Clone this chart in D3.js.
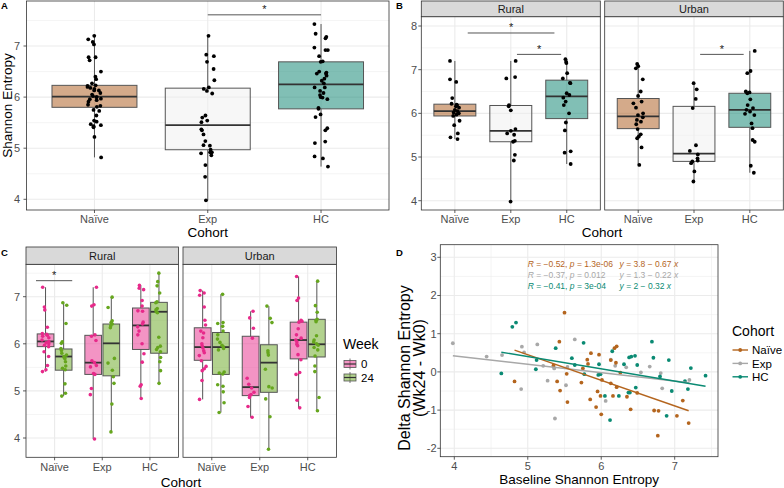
<!DOCTYPE html>
<html><head><meta charset="utf-8">
<script src="https://cdn.jsdelivr.net/npm/d3@7"></script>
<style>body{margin:0;background:#fff}svg{display:block}</style>
</head><body><svg id="c" width="784" height="488"></svg>
<script>
const cohorts = ["Naïve", "Exp", "HC"];
const sites = ["Rural", "Urban"];
const weeks = ["0", "24"];

// Week 0 (baseline) Shannon entropy by site, per cohort [Naïve, Exp, HC]
const ruralNaive0 = [7.20, 6.78, 6.72, 6.35, 6.22, 6.20, 6.18, 6.16, 6.13, 6.08, 6.05, 6.02, 6.00, 5.97, 5.94, 5.83, 5.73, 5.54, 5.45, 5.41];
const ruralExp0 = [7.20, 6.83, 6.80, 6.19, 6.16, 6.07, 5.64, 5.60, 5.54, 5.51, 5.37, 5.35, 5.05, 4.92, 3.98];
const ruralHC0 = [7.24, 7.18, 7.15, 6.92, 6.80, 6.70, 6.69, 6.46, 6.42, 6.36, 6.27, 6.19, 6.00, 5.79, 5.61, 5.13, 5.10, 4.84];
const urbanNaive0 = [7.13, 7.08, 7.03, 6.78, 6.50, 6.40, 6.27, 6.23, 6.13, 6.00, 5.96, 5.91, 5.85, 5.81, 5.75, 5.64, 5.52, 5.47, 5.43, 5.22, 4.82];
const urbanExp0 = [6.69, 6.55, 6.33, 6.12, 5.27, 5.14, 5.06, 4.97, 4.92, 4.90, 4.86, 4.67, 4.44];
const urbanHC0 = [7.43, 6.97, 6.92, 6.50, 6.48, 6.46, 6.32, 6.19, 6.12, 6.08, 6.04, 5.99, 5.96, 5.77, 5.66, 5.39, 5.35, 4.80, 4.64];
// Week 24
const ruralNaive24 = [6.87, 6.82, 6.43, 6.04, 6.01, 5.90, 5.86, 5.80, 5.76, 5.73, 5.71, 5.68, 5.62, 5.53, 5.48, 5.45, 5.15, 4.95, 4.89];
const ruralExp24 = [6.99, 6.77, 6.49, 6.45, 6.42, 6.38, 6.34, 5.69, 5.59, 5.44, 5.30, 5.16, 4.72, 4.13];
const ruralHC24 = [7.50, 7.32, 7.23, 7.08, 6.89, 6.87, 6.75, 6.72, 6.68, 6.66, 6.14, 5.95, 5.92, 5.88, 5.83, 5.71, 5.62, 5.43, 5.16];
const urbanNaive24 = [7.05, 6.45, 6.43, 6.37, 6.27, 6.19, 6.10, 6.03, 5.97, 5.94, 5.90, 5.87, 5.40, 5.38, 5.36, 5.13, 5.10, 4.98, 4.75, 4.54];
const urbanExp24 = [6.80, 6.54, 6.45, 5.85, 5.81, 5.76, 5.46, 5.09, 5.06, 4.83, 4.45, 3.76];
const urbanHC24 = [7.33, 6.81, 6.67, 6.52, 6.50, 6.47, 6.17, 6.08, 6.04, 6.00, 5.97, 5.92, 5.87, 5.74, 5.53, 5.41, 4.86, 4.58];

// Box quartiles [Q1, median, Q3] per cohort
const quartA = [[5.80, 6.01, 6.23], [4.97, 5.45, 6.175], [5.77, 6.25, 6.69]];
const quartRural0 = [[5.94, 6.05, 6.21], [5.35, 5.60, 6.18], [5.88, 6.39, 6.76]];
const quartUrban0 = [[5.65, 5.93, 6.34], [4.90, 5.08, 6.16], [5.68, 6.08, 6.46]];
const quartRural24 = [[5.44, 5.73, 5.89], [5.32, 6.01, 6.42], [5.80, 6.68, 6.88]];
const quartUrban24 = [[5.35, 5.93, 6.24], [4.97, 5.60, 5.98], [5.72, 5.99, 6.52]];

// Significance brackets [x1, x2, y] in category units
const sigA = [[2, 3, 7.61]];
const sigBRural = [[1.23, 2.78, 7.84], [2.11, 2.90, 7.35]];
const sigBUrban = [[2.11, 2.89, 7.35]];
const sigCRural = [[0.61, 1.37, 7.34]];

// Panel D: baseline vs delta
const dNaiveX = [4.82, 5.35, 5.40, 5.43, 5.44, 5.50, 5.53, 5.54, 5.73, 5.75, 5.81, 5.82, 5.85, 5.86, 5.93, 5.95, 5.97, 5.99, 6.00, 6.01, 6.13, 6.13, 6.16, 6.18, 6.20, 6.21, 6.21, 6.26, 6.35, 6.40, 6.49, 6.72, 6.78, 6.77, 7.03, 7.11, 7.19];
const dNaiveY = [-0.25, 0.17, -0.25, 0.79, -0.49, 1.55, -0.05, -0.79, -0.28, 0.09, 0.32, 0.21, -0.72, 0.49, -0.92, -0.51, 0.45, -0.63, -1.11, -0.21, -0.30, 0.31, -0.63, 0.62, 0.24, 0.67, -0.40, -0.02, -0.65, -0.98, -0.55, -1.01, -1.02, -1.67, -1.15, -0.75, -1.34];
const dExpX = [3.98, 4.44, 4.65, 4.91, 4.92, 4.95, 5.13, 5.21, 5.27, 5.35, 5.36, 5.37, 5.52, 5.54, 5.64, 6.06, 6.13, 6.19, 6.34, 6.54, 6.66, 6.81, 6.83, 7.20];
const dExpY = [0.75, 0.40, 0.44, -0.45, 0.66, 0.51, 0.72, 0.16, -0.23, 0.14, 0.09, -1.22, -0.35, 0.13, 0.85, -0.76, 0.32, 0.16, 0.12, -0.01, 0.14, -0.03, -0.43, -0.21];
const dHCX = [4.64, 4.79, 4.84, 5.11, 5.12, 5.38, 5.60, 5.64, 5.76, 5.77, 5.96, 5.97, 5.99, 6.05, 6.12, 6.15, 6.24, 6.31, 6.37, 6.39, 6.38, 6.41, 6.46, 6.47, 6.49, 6.69, 6.71, 6.80, 6.89, 6.92, 6.96, 7.14, 7.18, 7.22, 7.42];
const dHCY = [-0.04, 1.18, 1.29, 0.07, 0.31, 0.62, 0.36, 0.18, 0.76, -0.06, -0.08, 0.20, -0.06, -0.63, -1.26, 0.54, -0.63, 0.20, -0.54, -0.54, 0.38, 0.40, 0.42, -0.41, 0.18, 0.79, 0.37, -0.12, -1.15, 0.31, -0.50, -0.24, -0.45, 0.10, -0.10];
const fitIntercept = [3.8, 1.3, 2];
const fitSlope = [-0.67, -0.22, -0.32];
const corR = ["−0.52", "−0.37", "−0.41"];
const corP = ["1.3e-06", "0.012", "3e-04"];
const eqText = [" = 3.8 − 0.67 ", " = 1.3 − 0.22 ", " = 2 − 0.32 "];

const ticks4to7 = [4, 5, 6, 7];
const ticks4to8 = [4, 5, 6, 7, 8];
const ticksDX = [4, 5, 6, 7];
const ticksDY = [-2, -1, 0, 1, 2, 3];

// ---------- styles ----------
const FONT = '"Liberation Sans", Arial, Helvetica, sans-serif';
const cohortFill = ["#B0652A", "#F0F0F0", "#1A8A78"];
const cohortFillOp = [0.55, 0.5, 0.55];
const cohortCol = ["#B4651E", "#A8A8A8", "#0A8A73"];
const weekCol = ["#E7298A", "#66A61E"];
const GRID = "#EBEBEB";

const svg = d3.select("#c").style("font-family", FONT);
const rng = d3.randomLcg(0.37);
const jit = () => rng() * 2 - 1;

function frame(x0, x1, y0, y1, xs, ys, xMaj, xMin, yMaj, yMin) {
  svg.append("rect").attr("x", x0).attr("y", y0).attr("width", x1 - x0).attr("height", y1 - y0).attr("fill", "#fff");
  const gl = svg.append("g");
  yMin.forEach(v => gl.append("line").attr("x1", x0).attr("x2", x1).attr("y1", ys(v)).attr("y2", ys(v)).attr("stroke", GRID).attr("stroke-width", 0.55));
  xMin.forEach(v => gl.append("line").attr("y1", y0).attr("y2", y1).attr("x1", xs(v)).attr("x2", xs(v)).attr("stroke", GRID).attr("stroke-width", 0.55));
  yMaj.forEach(v => gl.append("line").attr("x1", x0).attr("x2", x1).attr("y1", ys(v)).attr("y2", ys(v)).attr("stroke", GRID).attr("stroke-width", 1.1));
  xMaj.forEach(v => gl.append("line").attr("y1", y0).attr("y2", y1).attr("x1", xs(v)).attr("x2", xs(v)).attr("stroke", GRID).attr("stroke-width", 1.1));
}
function border(x0, x1, y0, y1) {
  svg.append("rect").attr("x", x0).attr("y", y0).attr("width", x1 - x0).attr("height", y1 - y0)
    .attr("fill", "none").attr("stroke", "#333").attr("stroke-width", 0.8);
}
function strip(x0, x1, y0, y1, label) {
  svg.append("rect").attr("x", x0).attr("y", y0).attr("width", x1 - x0).attr("height", y1 - y0)
    .attr("fill", "#D9D9D9").attr("stroke", "#333").attr("stroke-width", 0.8);
  svg.append("text").attr("x", (x0 + x1) / 2).attr("y", (y0 + y1) / 2).attr("dy", "0.36em")
    .attr("text-anchor", "middle").attr("font-size", 11).attr("fill", "#1A1A1A").text(label);
}
function yAxis(x0, ys, ticks, labelX) {
  ticks.forEach(v => {
    svg.append("line").attr("x1", x0 - 3).attr("x2", x0).attr("y1", ys(v)).attr("y2", ys(v)).attr("stroke", "#333").attr("stroke-width", 0.8);
    svg.append("text").attr("x", labelX).attr("y", ys(v)).attr("dy", "0.36em").attr("text-anchor", "end")
      .attr("font-size", 11).attr("fill", "#4D4D4D").text(v);
  });
}
function xAxis(y1, xs, ticks, labels, baseY) {
  ticks.forEach((v, i) => {
    svg.append("line").attr("x1", xs(v)).attr("x2", xs(v)).attr("y1", y1).attr("y2", y1 + 3).attr("stroke", "#333").attr("stroke-width", 0.8);
    svg.append("text").attr("x", xs(v)).attr("y", baseY).attr("text-anchor", "middle")
      .attr("font-size", 11).attr("fill", "#4D4D4D").text(labels[i]);
  });
}
function box(xs, ys, pos, w, q, vals, fill, fop, ptCol, jw, ptR) {
  const [lo, hi] = d3.extent(vals);
  const xc = xs(pos), half = (xs(pos + w / 2) - xs(pos - w / 2)) / 2;
  const g = svg.append("g");
  g.append("line").attr("x1", xc).attr("x2", xc).attr("y1", ys(hi)).attr("y2", ys(q[2])).attr("stroke", "#555").attr("stroke-width", 1);
  g.append("line").attr("x1", xc).attr("x2", xc).attr("y1", ys(q[0])).attr("y2", ys(lo)).attr("stroke", "#555").attr("stroke-width", 1);
  g.append("rect").attr("x", xc - half).attr("y", ys(q[2])).attr("width", 2 * half).attr("height", ys(q[0]) - ys(q[2]))
    .attr("fill", fill).attr("fill-opacity", fop).attr("stroke", "#555").attr("stroke-width", 1);
  g.append("line").attr("x1", xc - half).attr("x2", xc + half).attr("y1", ys(q[1])).attr("y2", ys(q[1])).attr("stroke", "#333").attr("stroke-width", 1.8);
  return () => vals.forEach(v => svg.append("circle").attr("cx", xc + jit() * jw).attr("cy", ys(v)).attr("r", ptR).attr("fill", ptCol));
}
function sig(xs, ys, list) {
  list.forEach(([a, b, y]) => {
    svg.append("line").attr("x1", xs(a)).attr("x2", xs(b)).attr("y1", ys(y)).attr("y2", ys(y)).attr("stroke", "#555").attr("stroke-width", 1);
    svg.append("text").attr("x", xs((a + b) / 2)).attr("y", ys(y) - 1.5).attr("text-anchor", "middle")
      .attr("font-size", 11).attr("fill", "#222").text("*");
  });
}
function letter(x, y, t) {
  svg.append("text").attr("x", x).attr("y", y).attr("font-size", 9.5).attr("font-weight", "bold").attr("fill", "#000").text(t);
}
function title(x, y, t, rot, size) {
  const el = svg.append("text").attr("text-anchor", "middle").attr("font-size", size || 13.5).attr("fill", "#000").text(t);
  if (rot) el.attr("transform", `translate(${x},${y}) rotate(-90)`); else el.attr("x", x).attr("y", y);
  return el;
}

const catPos = [1, 2, 3];
const halves = [3.5, 4.5, 5.5, 6.5, 7.5];

// ---------- Panel A ----------
{
  const x0 = 26.5, x1 = 389, y0 = 1, y1 = 210;
  const xs = d3.scaleLinear().domain([0.4, 3.6]).range([x0, x1]);
  const ys = d3.scaleLinear().domain([4, 7]).range([199.3, 46]);
  frame(x0, x1, y0, y1, xs, ys, catPos, [], ticks4to7, halves.filter(v => ys(v) > y0 && ys(v) < y1));
  const rural = [ruralNaive0, ruralExp0, ruralHC0], urban = [urbanNaive0, urbanExp0, urbanHC0];
  const pts = cohorts.map((c, i) => box(xs, ys, i + 1, 0.75, quartA[i], rural[i].concat(urban[i]), cohortFill[i], cohortFillOp[i], "#000", 7, 1.9));
  pts.forEach(f => f());
  sig(xs, ys, sigA);
  border(x0, x1, y0, y1);
  yAxis(x0, ys, ticks4to7, 20);
  xAxis(y1, xs, catPos, cohorts, 222.5);
  title((x0 + x1) / 2, 237, "Cohort");
  title(12, (y0 + y1) / 2, "Shannon Entropy", true);
  letter(1, 8.5, "A");
}

// ---------- Panel B ----------
{
  const y0 = 16.7, y1 = 210;
  const ys = d3.scaleLinear().domain([4, 8]).range([200.7, 26]);
  const panels = [[421.3, 600.3, [ruralNaive0, ruralExp0, ruralHC0], quartRural0, sigBRural], [604.7, 783.3, [urbanNaive0, urbanExp0, urbanHC0], quartUrban0, sigBUrban]];
  panels.forEach(([x0, x1, data, qs, sg], k) => {
    const xs = d3.scaleLinear().domain([0.4, 3.6]).range([x0, x1]);
    frame(x0, x1, y0, y1, xs, ys, catPos, [], ticks4to8, halves.filter(v => ys(v) > y0 && ys(v) < y1));
    const pts = cohorts.map((c, i) => box(xs, ys, i + 1, 0.75, qs[i], data[i], cohortFill[i], cohortFillOp[i], "#000", 5, 1.9));
    pts.forEach(f => f());
    sig(xs, ys, sg);
    border(x0, x1, y0, y1);
    strip(x0, x1, 1, y0, sites[k]);
    if (k === 0) yAxis(x0, ys, ticks4to8, 417);
    xAxis(y1, xs, catPos, cohorts, 222.5);
  });
  title(602, 237, "Cohort");
  letter(396, 8.5, "B");
}

// ---------- Panel C ----------
{
  const y0 = 264.3, y1 = 457.3;
  const ys = d3.scaleLinear().domain([4, 7]).range([438, 296.7]);
  const panels = [
    [26, 178.5, [ruralNaive0, ruralExp0, ruralHC0], [ruralNaive24, ruralExp24, ruralHC24], quartRural0, quartRural24, sigCRural],
    [183, 336.5, [urbanNaive0, urbanExp0, urbanHC0], [urbanNaive24, urbanExp24, urbanHC24], quartUrban0, quartUrban24, []]];
  panels.forEach(([x0, x1, d0, d24, q0, q24, sg], k) => {
    const xs = d3.scaleLinear().domain([0.4, 3.6]).range([x0, x1]);
    frame(x0, x1, y0, y1, xs, ys, catPos, [], ticks4to7, halves.filter(v => ys(v) > y0 && ys(v) < y1));
    const pts = [];
    cohorts.forEach((c, i) => {
      pts.push(box(xs, ys, i + 1 - 0.19, 0.35, q0[i], d0[i], weekCol[0], 0.5, weekCol[0], 3.5, 1.8));
      pts.push(box(xs, ys, i + 1 + 0.19, 0.35, q24[i], d24[i], weekCol[1], 0.5, weekCol[1], 3.5, 1.8));
    });
    pts.forEach(f => f());
    sig(xs, ys, sg);
    border(x0, x1, y0, y1);
    strip(x0, x1, 247, y0, sites[k]);
    if (k === 0) yAxis(x0, ys, ticks4to7, 20);
    xAxis(y1, xs, catPos, cohorts, 470.5);
  });
  title(181, 486.5, "Cohort");
  letter(1, 255.5, "C");
  // legend
  svg.append("text").attr("x", 343).attr("y", 349).attr("font-size", 14).attr("fill", "#000").text("Week");
  weeks.forEach((w, i) => {
    const cy = 364 + i * 13.5, cx = 350;
    svg.append("line").attr("x1", cx).attr("x2", cx).attr("y1", cy - 5.5).attr("y2", cy + 5.5).attr("stroke", "#555").attr("stroke-width", 0.8);
    svg.append("rect").attr("x", cx - 6).attr("y", cy - 3.5).attr("width", 12).attr("height", 7)
      .attr("fill", weekCol[i]).attr("fill-opacity", 0.5).attr("stroke", "#555").attr("stroke-width", 0.8);
    svg.append("line").attr("x1", cx - 6).attr("x2", cx + 6).attr("y1", cy).attr("y2", cy).attr("stroke", "#333").attr("stroke-width", 1.2);
    svg.append("text").attr("x", 361).attr("y", cy).attr("dy", "0.36em").attr("font-size", 11.5).attr("fill", "#000").text(w);
  });
}

// ---------- Panel D ----------
{
  const x0 = 440.3, x1 = 718, y0 = 244.7, y1 = 456.7;
  const xs = d3.scaleLinear().domain([4, 7]).range([454.3, 674.7]);
  const ys = d3.scaleLinear().domain([-2, 3]).range([448.3, 257.3]);
  frame(x0, x1, y0, y1, xs, ys, ticksDX, [4.5, 5.5, 6.5, 7.5], ticksDY, [-1.5, -0.5, 0.5, 1.5, 2.5]);
  const X = [dNaiveX, dExpX, dHCX], Y = [dNaiveY, dExpY, dHCY];
  [1, 0, 2].forEach(i => {
    X[i].forEach((v, j) => svg.append("circle").attr("cx", xs(v)).attr("cy", ys(Y[i][j])).attr("r", 1.9).attr("fill", cohortCol[i]));
  });
  [1, 0, 2].forEach(i => {
    const [a, b] = d3.extent(X[i]);
    svg.append("line").attr("x1", xs(a)).attr("x2", xs(b))
      .attr("y1", ys(fitIntercept[i] + fitSlope[i] * a)).attr("y2", ys(fitIntercept[i] + fitSlope[i] * b))
      .attr("stroke", cohortCol[i]).attr("stroke-width", 1.4);
  });
  const labY = [2.82, 2.55, 2.26];
  cohorts.forEach((c, i) => {
    const t1 = svg.append("text").attr("x", xs(5.0)).attr("y", ys(labY[i])).attr("dy", "0.36em").attr("font-size", 8.5).attr("fill", cohortCol[i]);
    t1.append("tspan").attr("font-style", "italic").text("R");
    t1.append("tspan").text(" = " + corR[i] + ", ");
    t1.append("tspan").attr("font-style", "italic").text("p");
    t1.append("tspan").text(" = " + corP[i]);
    const t2 = svg.append("text").attr("x", xs(6.25)).attr("y", ys(labY[i])).attr("dy", "0.36em").attr("font-size", 8.5).attr("fill", cohortCol[i]);
    t2.append("tspan").attr("font-style", "italic").text("y");
    t2.append("tspan").text(eqText[i]);
    t2.append("tspan").attr("font-style", "italic").text("x");
  });
  border(x0, x1, y0, y1);
  yAxis(x0, ys, ticksDY, 436.5);
  xAxis(y1, xs, ticksDX, ticksDX, 470);
  title((x0 + x1) / 2, 484, "Baseline Shannon Entropy");
  title(409.5, 368, "Delta Shannon Entropy", true, 16);
  title(425, 368, "(Wk24 - Wk0)", true, 16);
  letter(396, 256, "D");
  // legend
  svg.append("text").attr("x", 732).attr("y", 336).attr("font-size", 14).attr("fill", "#000").text("Cohort");
  cohorts.forEach((c, i) => {
    const cy = 350 + i * 13.4;
    svg.append("line").attr("x1", 732.5).attr("x2", 748).attr("y1", cy).attr("y2", cy).attr("stroke", cohortCol[i]).attr("stroke-width", 1.4);
    svg.append("circle").attr("cx", 740.2).attr("cy", cy).attr("r", 1.9).attr("fill", cohortCol[i]);
    svg.append("text").attr("x", 752).attr("y", cy).attr("dy", "0.36em").attr("font-size", 11.5).attr("fill", "#000").text(c);
  });
}
</script></body></html>
